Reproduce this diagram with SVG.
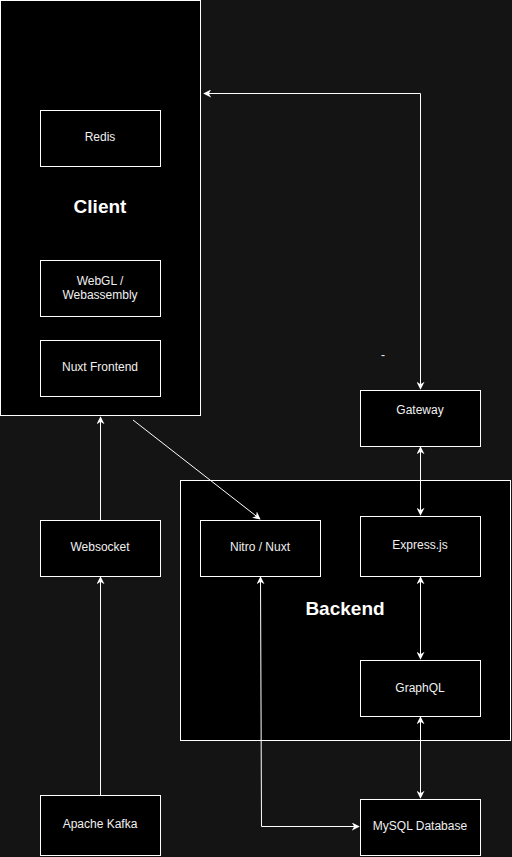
<svg xmlns="http://www.w3.org/2000/svg" width="512" height="857" viewBox="0 0 512 857">
<defs>
<marker id="ah" viewBox="0 0 10 10" refX="9" refY="5" markerWidth="8" markerHeight="8" markerUnits="userSpaceOnUse" orient="auto-start-reverse">
<path d="M0,0 L10,5 L0,10 L3,5 Z" fill="#ffffff"/>
</marker>
<style>
.box{fill:#000000;stroke:#ffffff;stroke-width:1}
.lbl{font-family:"Liberation Sans",Arial,sans-serif;font-size:12px;fill:#f0f0f0;text-anchor:middle}
.big{font-family:"Liberation Sans",Arial,sans-serif;font-size:19px;font-weight:bold;fill:#ffffff;text-anchor:middle}
.c{fill:none;stroke:#ffffff;stroke-width:1}
</style>
</defs>
<rect x="0" y="0" width="512" height="857" fill="#141414"/>
<g id="client"><rect class="box" x="0.5" y="0.5" width="200" height="415"/><text class="big" x="100" y="213">Client</text></g>
<g id="backend"><rect class="box" x="180.5" y="480.5" width="330" height="260"/><text class="big" x="345" y="615">Backend</text></g>
<g id="redis"><rect class="box" x="40.5" y="110.5" width="120" height="56"/><text class="lbl" x="100" y="141">Redis</text></g>
<g id="webgl"><rect class="box" x="40.5" y="260.5" width="120" height="56"/><text class="lbl" x="100" y="285">WebGL /</text><text class="lbl" x="100" y="299">Webassembly</text></g>
<g id="nuxt-frontend"><rect class="box" x="40.5" y="340.5" width="120" height="56"/><text class="lbl" x="100" y="371">Nuxt Frontend</text></g>
<g id="gateway"><rect class="box" x="360.5" y="390.5" width="120" height="56"/><text class="lbl" x="420" y="414">Gateway</text></g>
<g id="websocket"><rect class="box" x="40.5" y="520.5" width="120" height="56"/><text class="lbl" x="100" y="551">Websocket</text></g>
<g id="nitro"><rect class="box" x="200.5" y="520.5" width="120" height="56"/><text class="lbl" x="260" y="551">Nitro / Nuxt</text></g>
<g id="express"><rect class="box" x="360.5" y="516.5" width="120" height="60"/><text class="lbl" x="420" y="549">Express.js</text></g>
<g id="graphql"><rect class="box" x="360.5" y="660.5" width="120" height="56"/><text class="lbl" x="420" y="692">GraphQL</text></g>
<g id="kafka"><rect class="box" x="40.5" y="795.5" width="120" height="60"/><text class="lbl" x="100" y="828">Apache Kafka</text></g>
<g id="mysql"><rect class="box" x="360.5" y="799.5" width="120" height="56"/><text class="lbl" x="420" y="830">MySQL Database</text></g>
<g id="dash"><text class="lbl" x="383" y="359">-</text></g>
<g id="connectors">
<path class="c" d="M420.5,389 L420.5,93.5 L204,93.5" marker-start="url(#ah)" marker-end="url(#ah)"/>
<path class="c" d="M420.5,447 L420.5,515" marker-start="url(#ah)" marker-end="url(#ah)"/>
<path class="c" d="M420.5,577 L420.5,659" marker-start="url(#ah)" marker-end="url(#ah)"/>
<path class="c" d="M420.5,717 L420.5,798" marker-start="url(#ah)" marker-end="url(#ah)"/>
<path class="c" d="M260.5,577 L261.5,826.5 L359,826.5" marker-start="url(#ah)" marker-end="url(#ah)"/>
<path class="c" d="M100.5,520 L100.5,417" marker-end="url(#ah)"/>
<path class="c" d="M100.5,795 L100.5,577" marker-end="url(#ah)"/>
<path class="c" d="M133,420 L260,519" marker-end="url(#ah)"/>
</g>
</svg>
